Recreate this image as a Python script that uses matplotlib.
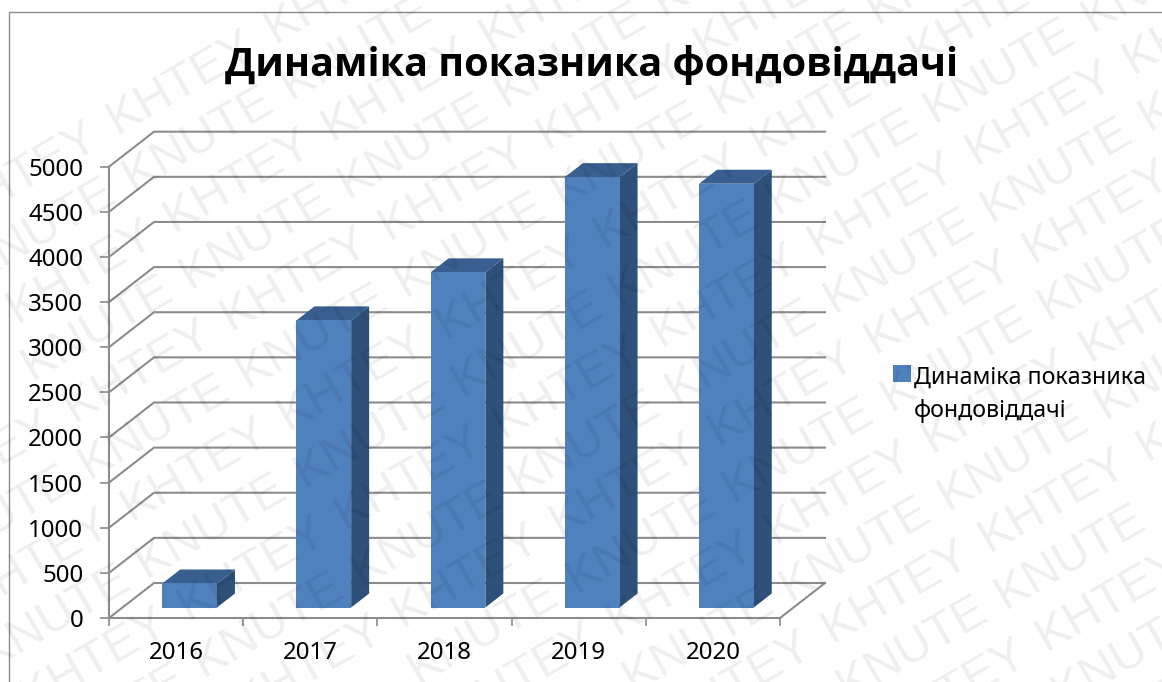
import math
import matplotlib
matplotlib.use("Agg")
import matplotlib.pyplot as plt
from matplotlib.patches import Polygon, Patch, Rectangle

plt.rcParams['font.family'] = ['Noto Sans', 'DejaVu Sans']

title = "Динаміка показника фондовіддачі"
series_name = "Динаміка показника\nфондовіддачі"
years = ["2016", "2017", "2018", "2019", "2020"]
values = [266, 3181, 3713, 4768, 4695]
y_ticks = [0, 500, 1000, 1500, 2000, 2500, 3000, 3500, 4000, 4500, 5000]

W, H = 1162, 682
L, R, B, T = 109, 780, 618, 166.7
cat_px = (R - L) / 5
val_px = (B - T) / 5000
wall_dx = 45 / cat_px          # depth of the floor, in category units
wall_dy = 35 / val_px          # depth of the floor, in value units
bar_w = 54.7 / cat_px
GRID = '#8c8c8c'
FRONT, SIDE, TOP = '#4F81BD', '#2E5079', '#385F8F'

fig = plt.figure(figsize=(W / 100, H / 100), dpi=100, facecolor='white')
fig.add_artist(Rectangle((9 / W, -0.01), (W + 20) / W, 1 - 12 / H + 0.01, transform=fig.transFigure,
                         fill=False, ec='#8a8a8a', lw=1.0))
ax = fig.add_axes([L / W, 1 - B / H, (R - L) / W, (B - T) / H])
ax.set_xlim(0, 5)
ax.set_ylim(0, 5000)
ax.patch.set_alpha(0)

for s in ('top', 'right'):
    ax.spines[s].set_visible(False)
for s in ('left', 'bottom'):
    ax.spines[s].set_color(GRID)
    ax.spines[s].set_linewidth(1.5)

ax.set_yticks(y_ticks)
ax.set_xticks(range(6))
ax.set_xticklabels([])
ax.tick_params(axis='y', length=6.5, width=1.2, color=GRID, labelsize=17.3, pad=12)
ax.tick_params(axis='x', length=6, width=1.2, color=GRID)
for i, y in enumerate(years):
    ax.annotate(y, (i + 0.5, 0), xytext=(0, -35), textcoords='offset pixels',
                ha='center', va='center', fontsize=17.3, annotation_clip=False)

# walls
for v in y_ticks:
    ax.plot([0, wall_dx, 5 + wall_dx], [v, v + wall_dy, v + wall_dy], color=GRID, lw=1.5,
            clip_on=False, zorder=1, solid_joinstyle='miter')
ax.plot([5, 5 + wall_dx], [0, wall_dy], color=GRID, lw=1.5, clip_on=False, zorder=1)

# bars
off_x, off_y = 0.3 * wall_dx, 0.3 * wall_dy
dep_x, dep_y = 0.4 * wall_dx, 0.4 * wall_dy
for i, v in enumerate(values):
    x0 = i + 0.5 - bar_w / 2 + off_x
    x1 = x0 + bar_w
    y0 = off_y
    y1 = off_y + v
    ax.add_patch(Polygon([(x1, y0), (x1 + dep_x, y0 + dep_y), (x1 + dep_x, y1 + dep_y), (x1, y1)],
                         fc=SIDE, ec='none', clip_on=False, zorder=3))
    ax.add_patch(Polygon([(x0, y1), (x1, y1), (x1 + dep_x, y1 + dep_y), (x0 + dep_x, y1 + dep_y)],
                         fc=TOP, ec='none', clip_on=False, zorder=3))
    ax.add_patch(Polygon([(x0, y0), (x1, y0), (x1, y1), (x0, y1)],
                         fc=FRONT, ec='none', clip_on=False, zorder=4))

fig.text(592 / W, 1 - 65 / H, title, ha='center', va='center', fontsize=28.5, fontweight='bold',
         family='Open Sans')

leg = fig.legend(handles=[Patch(fc=FRONT, ec='none', label=series_name)], loc='upper left',
                 bbox_to_anchor=(872 / W, 1 - 345 / H), frameon=False, fontsize=16.7,
                 handlelength=0.78, handleheight=0.78, handletextpad=0.12, labelspacing=0)
leg.get_texts()[0].set_linespacing(1.52)
leg.legend_handles[0].set_y(15.5)

# watermark
ANG = 30
ca, sa = math.cos(math.radians(ANG)), math.sin(math.radians(ANG))
STEP, ROW = 182, 57
ox, oy = 983, 541
for r in range(-14, 14):
    word = "KHTEY" if r % 2 == 0 else "KNUTE"
    shift = 0 if r % 2 == 0 else -15
    for k in range(-8, 8):
        along = k * STEP + shift
        x = ox + along * ca + r * ROW * sa
        y = oy - along * sa + r * ROW * ca
        cx, cy = x + 80 * ca, y - 80 * sa
        if -60 < cx < W + 60 and -40 < cy < H + 40:
            fig.text(x / W, 1 - y / H, word, rotation=ANG, rotation_mode='anchor',
                     ha='left', va='center', fontsize=35, color='black', alpha=0.065, zorder=20,
                     family='Liberation Sans')

fig.savefig('out.png', dpi=100)
